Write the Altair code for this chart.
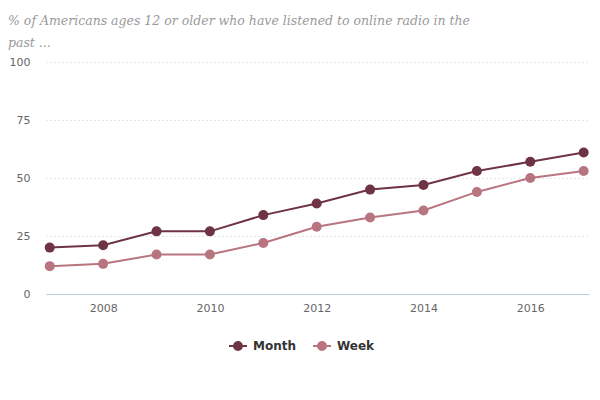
import altair as alt
import pandas as pd

years = [2007, 2008, 2009, 2010, 2011, 2012, 2013, 2014, 2015, 2016, 2017]
month = [20, 21, 27, 27, 34, 39, 45, 47, 53, 57, 61]
week = [12, 13, 17, 17, 22, 29, 33, 36, 44, 50, 53]
series = ["Month", "Week"]
colors = ["#6e3444", "#b87580"]
title_lines = ["% of Americans ages 12 or older who have listened to online radio in the", "past ..."]

rows = []
for y, m, w in zip(years, month, week):
    rows.append({"year": y, "series": "Month", "value": m})
    rows.append({"year": y, "series": "Week", "value": w})
df = pd.DataFrame(rows)

legend_shape = ("M-1,-0.11H-0.55V0.11H-1Z"
                "M0.55,-0.11H1V0.11H0.55Z"
                "M-0.55,0A0.55,0.55 0 1,1 0.55,0A0.55,0.55 0 1,1 -0.55,0Z")

chart = alt.Chart(df).mark_line(
    strokeWidth=2,
    point=alt.OverlayMarkDef(filled=True, size=100, opacity=1),
).encode(
    x=alt.X("year:Q", scale=alt.Scale(domain=[2006.93, 2017.1], nice=False, zero=False),
            axis=alt.Axis(values=[2008, 2010, 2012, 2014, 2016], format="d", title=None,
                          ticks=False, grid=False, domainColor="#b9cbdc", domainWidth=1,
                          labelColor="#666666", labelFontSize=11, labelFont="DejaVu Sans",
                          labelPadding=8)),
    y=alt.Y("value:Q", scale=alt.Scale(domain=[0, 100], nice=False),
            axis=alt.Axis(values=[0, 25, 50, 75, 100], title=None, ticks=False, domain=False,
                          gridDash=[1, 3], gridColor="#d0d0d0", labelColor="#666666",
                          labelFontSize=11, labelFont="DejaVu Sans", labelPadding=16)),
    color=alt.Color("series:N", scale=alt.Scale(domain=series, range=colors),
                    legend=alt.Legend(title=None, orient="none", direction="horizontal",
                                      legendX=183, legendY=275, labelFontSize=12,
                                      labelFontWeight="bold", labelColor="#333333",
                                      labelFont="DejaVu Sans", symbolSize=324,
                                      symbolType=legend_shape, labelOffset=6,
                                      columnPadding=16, symbolStrokeWidth=0,
                                      symbolOpacity=1)),
).properties(
    width=543,
    height=232,
    title=alt.TitleParams(text=title_lines, anchor="start", frame="group", dx=-38, dy=-3,
                          font="DejaVu Serif", fontStyle="italic",
                          fontWeight="normal", fontSize=12.5, color="#9a9a9a", lineHeight=22,
                          offset=4),
    autosize=alt.AutoSizeParams(type="none"),
    padding={"left": 38, "top": 54, "right": 3, "bottom": 106},
).configure_view(stroke=None)

chart.save("out.html", embed_options={"renderer": "svg", "actions": False})
